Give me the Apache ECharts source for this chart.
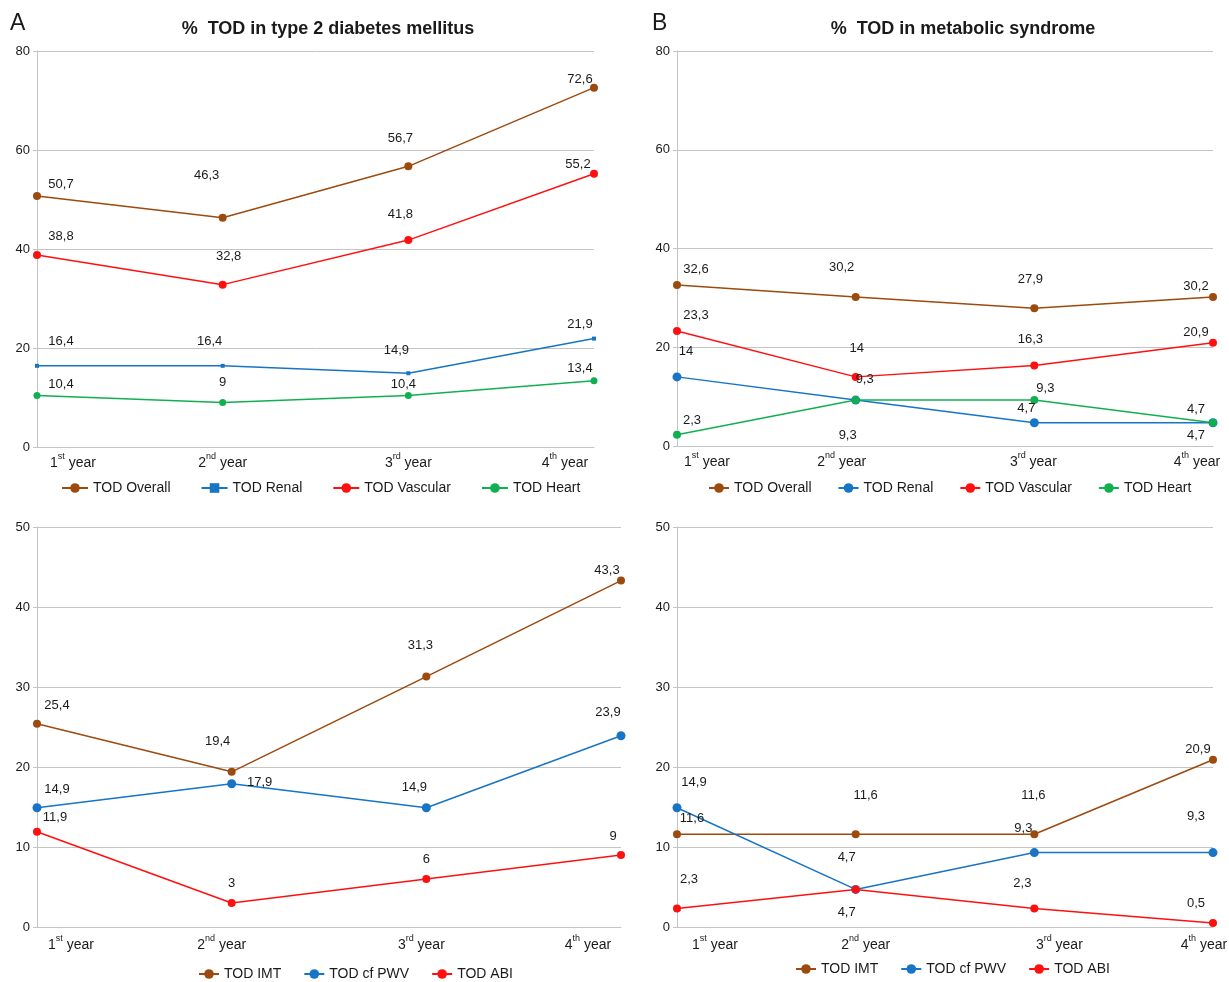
<!DOCTYPE html>
<html><head><meta charset="utf-8">
<script src="https://cdn.jsdelivr.net/npm/echarts@6/dist/echarts.min.js"></script>
<style>html,body{margin:0;padding:0;background:#fff;width:1229px;height:982px;overflow:hidden}.p{position:absolute}</style>
</head><body>
<div id="a1" class="p" style="left:0;top:0;width:620px;height:505px"></div>
<div id="b1" class="p" style="left:620px;top:0;width:609px;height:505px"></div>
<div id="a2" class="p" style="left:0;top:505px;width:645px;height:477px"></div>
<div id="b2" class="p" style="left:645px;top:505px;width:584px;height:477px"></div>
<script>
// ---- DATA ----
const categories = ['1st year', '2nd year', '3rd year', '4th year'];

const titleA = '%  TOD in type 2 diabetes mellitus';
const titleB = '%  TOD in metabolic syndrome';

const upperAxis = { min: 0, max: 80, interval: 20 };
const lowerAxis = { min: 0, max: 50, interval: 10 };

const upperNames = ['TOD Overall', 'TOD Renal', 'TOD Vascular', 'TOD Heart'];
const lowerNames = ['TOD IMT', 'TOD cf PWV', 'TOD ABI'];

// Panel A (type 2 diabetes) – upper
const dmOverall  = [50.7, 46.3, 56.7, 72.6];
const dmRenal    = [16.4, 16.4, 14.9, 21.9];
const dmVascular = [38.8, 32.8, 41.8, 55.2];
const dmHeart    = [10.4, 9, 10.4, 13.4];
// Panel B (metabolic syndrome) – upper
const msOverall  = [32.6, 30.2, 27.9, 30.2];
const msRenal    = [14, 9.3, 4.7, 4.7];
const msVascular = [23.3, 14, 16.3, 20.9];
const msHeart    = [2.3, 9.3, 9.3, 4.7];
// Panel A – lower
const dmIMT = [25.4, 19.4, 31.3, 43.3];
const dmPWV = [14.9, 17.9, 14.9, 23.9];
const dmABI = [11.9, 3, 6, 9];
// Panel B – lower
const msIMT = [11.6, 11.6, 11.6, 20.9];
const msPWV = [14.9, 4.7, 9.3, 9.3];
const msABI = [2.3, 4.7, 2.3, 0.5];

// ---- STYLE ----
const FONT = '"Liberation Sans", Arial, sans-serif';
const TXT = '#1a1a1a';
const GRID = '#c4c4c4';
const C_BROWN = '#9c4a0e', C_BLUE = '#1874c4', C_RED = '#ff1010', C_GREEN = '#10b050';

// label offsets (style only)
const offA1 = [
  [[24,-12],[-16,-42],[-8,-28],[-14,-8]],
  [[24,-24],[-13,-24],[-12,-23],[-14,-14]],
  [[24,-19],[6,-28],[-8,-26],[-16,-9]],
  [[24,-11],[0,-20],[-5,-11],[-14,-12]]
];
const offB1 = [
  [[19,-16],[-14,-29],[-4,-29],[-17,-10]],
  [[9,-25],[9,-21],[-8,-14],[-17,-13]],
  [[19,-16],[1,-28],[-4,-26],[-17,-10]],
  [[15,-14],[-8,35],[11,-12],[-17,13]]
];
const offA2 = [
  [[20,-18],[-14,-30],[-6,-31],[-14,-10]],
  [[20,-18],[28,-1],[-12,-20],[-13,-23]],
  [[18,-14],[0,-20],[0,-20],[-8,-19]]
];
const offB2 = [
  [[15,-16],[10,-39],[-1,-39],[-15,-10]],
  [[17,-25],[-9,-32],[-11,-24],[-17,-36]],
  [[12,-29],[-9,23],[-12,-25],[-17,-20]]
];

function fmtNum(v) { return String(v).replace('.', ','); }

function makeXAxis(shifts, margin) {
  const rich = {
    n: { fontSize: 14, fontFamily: FONT, color: TXT, lineHeight: 18, verticalAlign: 'bottom' },
    s: { fontSize: 9, fontFamily: FONT, color: TXT, lineHeight: 18, verticalAlign: 'top', padding: [0, 0, 6, 0] }
  };
  shifts.forEach((s, i) => { rich['pad' + i] = { width: Math.abs(s) * 2, lineHeight: 18 }; });
  return {
    type: 'category', data: categories, boundaryGap: false,
    axisLine: { lineStyle: { color: GRID, width: 1 } },
    axisTick: { show: false },
    axisLabel: {
      interval: 0, margin: margin, hideOverlap: false,
      formatter: (val, idx) => {
        const m = val.match(/^(\d+)(st|nd|rd|th)(.*)$/);
        let body = m ? `{n|${m[1]}}{s|${m[2]}}{n|${m[3]}}` : `{n|${val}}`;
        const s = shifts[idx] || 0;
        if (s > 0) body = `{pad${idx}| }` + body;
        else if (s < 0) body = body + `{pad${idx}| }`;
        return body;
      },
      rich: rich
    }
  };
}

function makeYAxis(ax) {
  return {
    type: 'value', min: ax.min, max: ax.max, interval: ax.interval,
    axisLine: { show: true, lineStyle: { color: GRID, width: 1 } },
    axisTick: { show: true, length: 4, lineStyle: { color: GRID } },
    splitLine: { lineStyle: { color: GRID, width: 1 } },
    axisLabel: { fontSize: 13, fontFamily: FONT, color: TXT, margin: 7 }
  };
}

function makeSeries(name, values, color, symbol, size, offsets) {
  return {
    type: 'line', name: name, color: color,
    data: values.map((v, i) => ({ value: v, label: { offset: offsets[i] } })),
    symbol: symbol, symbolSize: size, showAllSymbol: true,
    lineStyle: { color: color, width: 1.5 },
    itemStyle: { color: color },
    label: { show: true, position: 'inside', fontSize: 13, fontFamily: FONT, color: TXT,
             formatter: p => fmtNum(p.value) },
    emphasis: { disabled: true },
    animation: false
  };
}

function makeLegend(names, left, top, iw, gap) {
  return {
    data: names, left: left, top: top, width: 560, itemGap: gap, itemWidth: iw, itemHeight: 12,
    textStyle: { fontSize: 14, fontFamily: FONT, color: TXT }, selectedMode: false
  };
}

function makeTitles(letter, text, letterLeft, textCenter) {
  return [
    { text: letter, left: letterLeft, top: 12, padding: 0, textStyle: { fontSize: 23, fontWeight: 'normal', fontFamily: FONT, color: TXT } },
    { text: text, left: textCenter, top: 15, textAlign: 'center', textStyle: { fontSize: 18, fontWeight: 'bold', fontFamily: FONT, color: TXT } }
  ];
}

function gridAt(left, top, width, height) {
  return { left: left, top: top, width: width, height: height, containLabel: false, outerBoundsMode: 'none' };
}

const panels = [
  {
    id: 'a1',
    option: {
      title: makeTitles('A', titleA, 10, 323),
      grid: gridAt(37, 51, 557, 396),
      xAxis: makeXAxis([36, 0, 0, -29], 5),
      yAxis: makeYAxis(upperAxis),
      legend: makeLegend(upperNames, 56, 476, 26, 30),
      series: [
        makeSeries(upperNames[0], dmOverall, C_BROWN, 'circle', 8, offA1[0]),
        makeSeries(upperNames[1], dmRenal, C_BLUE, 'rect', 4, offA1[1]),
        makeSeries(upperNames[2], dmVascular, C_RED, 'circle', 8, offA1[2]),
        makeSeries(upperNames[3], dmHeart, C_GREEN, 'circle', 7, offA1[3])
      ]
    }
  },
  {
    id: 'b1',
    option: {
      title: makeTitles('B', titleB, 32, 338),
      grid: gridAt(57, 51, 536, 395),
      xAxis: makeXAxis([30, -14, -1, -16], 5),
      yAxis: makeYAxis(upperAxis),
      legend: makeLegend(upperNames, 83, 476, 20, 26),
      series: [
        makeSeries(upperNames[0], msOverall, C_BROWN, 'circle', 8, offB1[0]),
        makeSeries(upperNames[1], msRenal, C_BLUE, 'circle', 9, offB1[1]),
        makeSeries(upperNames[2], msVascular, C_RED, 'circle', 8, offB1[2]),
        makeSeries(upperNames[3], msHeart, C_GREEN, 'circle', 8, offB1[3])
      ]
    }
  },
  {
    id: 'a2',
    option: {
      grid: gridAt(37, 22, 584, 400),
      xAxis: makeXAxis([34, -10, -5, -33], 7),
      yAxis: makeYAxis(lowerAxis),
      legend: makeLegend(lowerNames, 193, 457, 20, 22),
      series: [
        makeSeries(lowerNames[0], dmIMT, C_BROWN, 'circle', 8, offA2[0]),
        makeSeries(lowerNames[1], dmPWV, C_BLUE, 'circle', 9, offA2[1]),
        makeSeries(lowerNames[2], dmABI, C_RED, 'circle', 8, offA2[2])
      ]
    }
  },
  {
    id: 'b2',
    option: {
      grid: gridAt(32, 22, 536, 400),
      xAxis: makeXAxis([38, 10, 25, -9], 7),
      yAxis: makeYAxis(lowerAxis),
      legend: makeLegend(lowerNames, 145, 452, 20, 22),
      series: [
        makeSeries(lowerNames[0], msIMT, C_BROWN, 'circle', 8, offB2[0]),
        makeSeries(lowerNames[1], msPWV, C_BLUE, 'circle', 9, offB2[1]),
        makeSeries(lowerNames[2], msABI, C_RED, 'circle', 8, offB2[2])
      ]
    }
  }
];

panels.forEach(p => {
  const chart = echarts.init(document.getElementById(p.id), null, { renderer: 'canvas' });
  p.option.animation = false;
  chart.setOption(p.option);
});
</script>
</body></html>
